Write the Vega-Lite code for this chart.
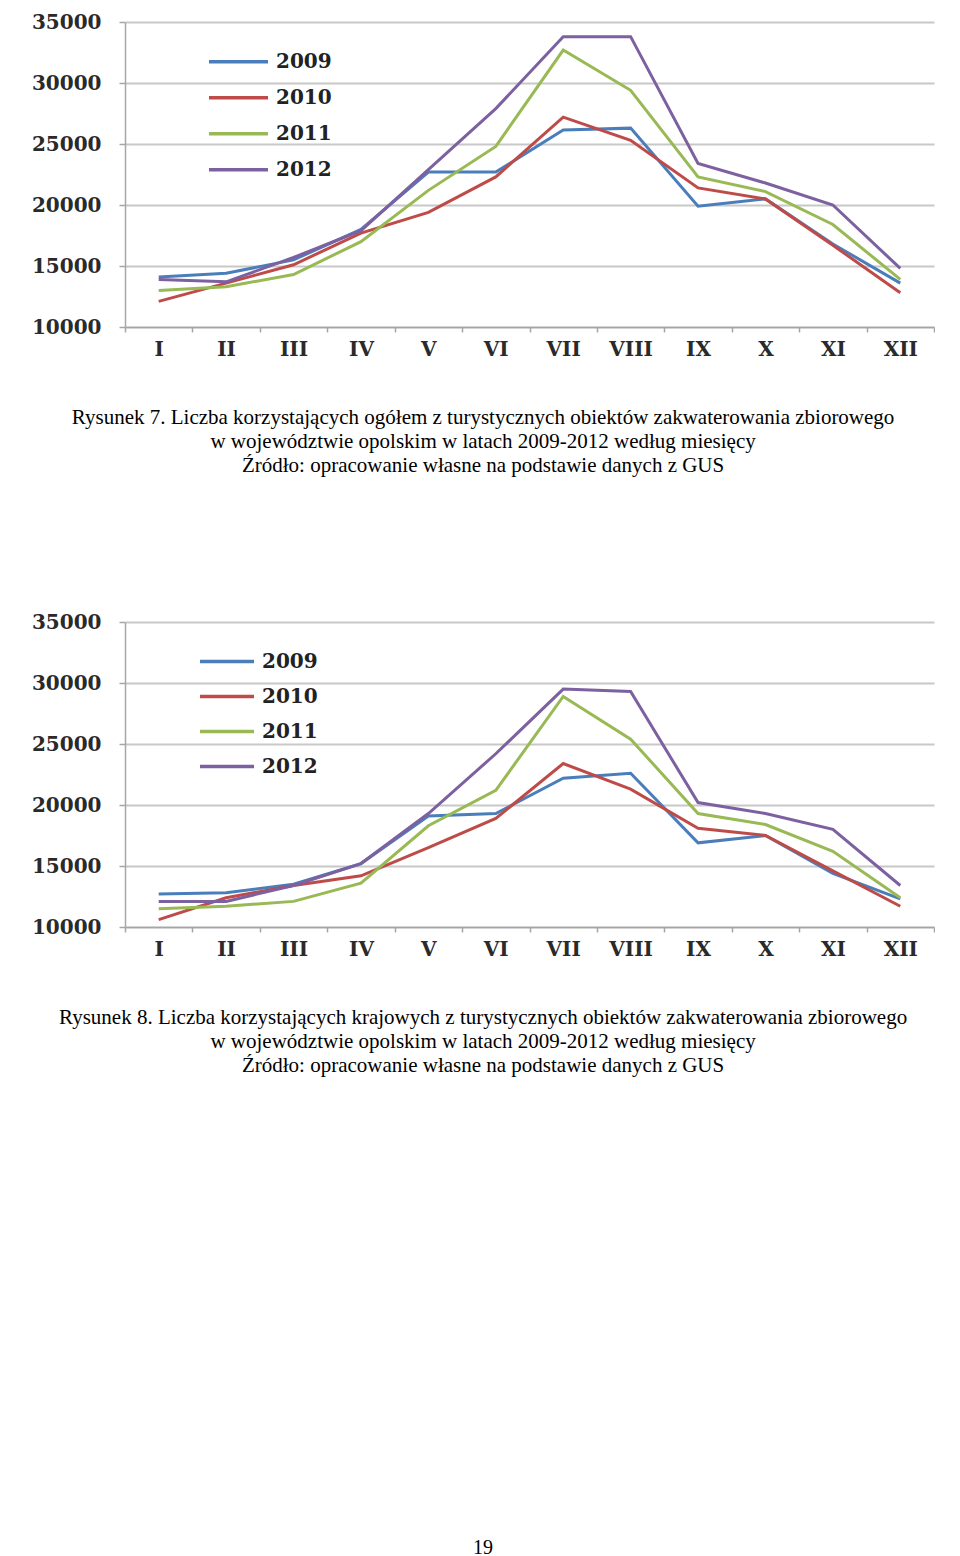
{
  "$schema": "https://vega.github.io/schema/vega-lite/v6.json",
  "background": "white",
  "padding": {"left": 31, "top": 12, "right": 0, "bottom": 0},
  "spacing": 136,
  "resolve": {"legend": {"color": "independent"}},
  "datasets": {
    "ch1": [
      {"month": "I", "year": "2009", "value": 14100}, {"month": "II", "year": "2009", "value": 14400}, {"month": "III", "year": "2009", "value": 15500}, {"month": "IV", "year": "2009", "value": 18000}, {"month": "V", "year": "2009", "value": 22700}, {"month": "VI", "year": "2009", "value": 22700}, {"month": "VII", "year": "2009", "value": 26150}, {"month": "VIII", "year": "2009", "value": 26300}, {"month": "IX", "year": "2009", "value": 19900}, {"month": "X", "year": "2009", "value": 20500}, {"month": "XI", "year": "2009", "value": 16800}, {"month": "XII", "year": "2009", "value": 13600},
      {"month": "I", "year": "2010", "value": 12100}, {"month": "II", "year": "2010", "value": 13600}, {"month": "III", "year": "2010", "value": 15100}, {"month": "IV", "year": "2010", "value": 17700}, {"month": "V", "year": "2010", "value": 19400}, {"month": "VI", "year": "2010", "value": 22300}, {"month": "VII", "year": "2010", "value": 27200}, {"month": "VIII", "year": "2010", "value": 25300}, {"month": "IX", "year": "2010", "value": 21400}, {"month": "X", "year": "2010", "value": 20500}, {"month": "XI", "year": "2010", "value": 16700}, {"month": "XII", "year": "2010", "value": 12800},
      {"month": "I", "year": "2011", "value": 13000}, {"month": "II", "year": "2011", "value": 13300}, {"month": "III", "year": "2011", "value": 14300}, {"month": "IV", "year": "2011", "value": 17000}, {"month": "V", "year": "2011", "value": 21200}, {"month": "VI", "year": "2011", "value": 24800}, {"month": "VII", "year": "2011", "value": 32700}, {"month": "VIII", "year": "2011", "value": 29400}, {"month": "IX", "year": "2011", "value": 22300}, {"month": "X", "year": "2011", "value": 21100}, {"month": "XI", "year": "2011", "value": 18400}, {"month": "XII", "year": "2011", "value": 13900},
      {"month": "I", "year": "2012", "value": 13900}, {"month": "II", "year": "2012", "value": 13700}, {"month": "III", "year": "2012", "value": 15700}, {"month": "IV", "year": "2012", "value": 17900}, {"month": "V", "year": "2012", "value": 22900}, {"month": "VI", "year": "2012", "value": 27900}, {"month": "VII", "year": "2012", "value": 33800}, {"month": "VIII", "year": "2012", "value": 33800}, {"month": "IX", "year": "2012", "value": 23400}, {"month": "X", "year": "2012", "value": 21800}, {"month": "XI", "year": "2012", "value": 20000}, {"month": "XII", "year": "2012", "value": 14800}
    ],
    "ch2": [
      {"month": "I", "year": "2009", "value": 12700}, {"month": "II", "year": "2009", "value": 12800}, {"month": "III", "year": "2009", "value": 13500}, {"month": "IV", "year": "2009", "value": 15200}, {"month": "V", "year": "2009", "value": 19100}, {"month": "VI", "year": "2009", "value": 19300}, {"month": "VII", "year": "2009", "value": 22200}, {"month": "VIII", "year": "2009", "value": 22600}, {"month": "IX", "year": "2009", "value": 16900}, {"month": "X", "year": "2009", "value": 17500}, {"month": "XI", "year": "2009", "value": 14400}, {"month": "XII", "year": "2009", "value": 12300},
      {"month": "I", "year": "2010", "value": 10600}, {"month": "II", "year": "2010", "value": 12400}, {"month": "III", "year": "2010", "value": 13400}, {"month": "IV", "year": "2010", "value": 14200}, {"month": "V", "year": "2010", "value": 16500}, {"month": "VI", "year": "2010", "value": 18900}, {"month": "VII", "year": "2010", "value": 23400}, {"month": "VIII", "year": "2010", "value": 21300}, {"month": "IX", "year": "2010", "value": 18100}, {"month": "X", "year": "2010", "value": 17500}, {"month": "XI", "year": "2010", "value": 14600}, {"month": "XII", "year": "2010", "value": 11700},
      {"month": "I", "year": "2011", "value": 11500}, {"month": "II", "year": "2011", "value": 11700}, {"month": "III", "year": "2011", "value": 12100}, {"month": "IV", "year": "2011", "value": 13600}, {"month": "V", "year": "2011", "value": 18300}, {"month": "VI", "year": "2011", "value": 21200}, {"month": "VII", "year": "2011", "value": 28900}, {"month": "VIII", "year": "2011", "value": 25400}, {"month": "IX", "year": "2011", "value": 19300}, {"month": "X", "year": "2011", "value": 18400}, {"month": "XI", "year": "2011", "value": 16200}, {"month": "XII", "year": "2011", "value": 12400},
      {"month": "I", "year": "2012", "value": 12100}, {"month": "II", "year": "2012", "value": 12100}, {"month": "III", "year": "2012", "value": 13400}, {"month": "IV", "year": "2012", "value": 15200}, {"month": "V", "year": "2012", "value": 19300}, {"month": "VI", "year": "2012", "value": 24200}, {"month": "VII", "year": "2012", "value": 29500}, {"month": "VIII", "year": "2012", "value": 29300}, {"month": "IX", "year": "2012", "value": 20200}, {"month": "X", "year": "2012", "value": 19300}, {"month": "XI", "year": "2012", "value": 18000}, {"month": "XII", "year": "2012", "value": 13400}
    ]
  },
  "config": {
    "view": {"stroke": null},
    "font": "Liberation Serif",
    "axis": {
      "labelFont": "DejaVu Serif",
      "labelFontWeight": "bold",
      "labelFontSize": 20,
      "labelColor": "#2a2a2a",
      "domainColor": "#a6a6a6",
      "domainWidth": 1.5,
      "tickColor": "#a6a6a6",
      "tickWidth": 1.5,
      "gridColor": "#c8c8c8",
      "gridWidth": 2,
      "title": null
    },
    "legend": {
      "orient": "none",
      "title": null,
      "symbolType": "stroke",
      "symbolStrokeWidth": 3.5,
      "labelFont": "DejaVu Serif",
      "labelFontWeight": "bold",
      "labelFontSize": 20,
      "labelColor": "#222222",
      "labelOffset": 6,
      "rowPadding": 0,
      "padding": 0
    },
    "title": {
      "font": "Liberation Serif",
      "fontWeight": "normal",
      "fontSize": 21,
      "color": "#000000",
      "lineHeight": 24,
      "orient": "bottom",
      "anchor": "middle",
      "frame": "bounds"
    }
  },
  "title": {"text": "19", "offset": 462, "fontSize": 20},
  "vconcat": [
    {
      "data": {"name": "ch1"},
      "width": 809,
      "height": 305,
      "title": {
        "text": [
          "Rysunek 7. Liczba korzystających ogółem z turystycznych obiektów zakwaterowania zbiorowego",
          "w województwie opolskim w latach 2009-2012 według miesięcy",
          "Źródło: opracowanie własne na podstawie danych z GUS"
        ],
        "offset": 48
      },
      "mark": {"type": "line", "strokeWidth": 3},
      "encoding": {
        "x": {
          "field": "month", "type": "ordinal", "bandPosition": 0.5,
          "sort": ["I", "II", "III", "IV", "V", "VI", "VII", "VIII", "IX", "X", "XI", "XII"],
          "scale": {"type": "band", "paddingInner": 0, "paddingOuter": 0},
          "axis": {"tickBand": "extent", "grid": false, "labelAngle": 0, "tickSize": 5, "labelPadding": 7}
        },
        "y": {
          "field": "value", "type": "quantitative",
          "scale": {"domain": [10000, 35000], "nice": false, "zero": false},
          "axis": {"values": [10000, 15000, 20000, 25000, 30000, 35000], "format": "d", "tickSize": 6, "labelPadding": 18}
        },
        "color": {
          "field": "year", "type": "nominal",
          "scale": {"domain": ["2009", "2010", "2011", "2012"], "range": ["#4a7ebb", "#be4b48", "#98b954", "#7d60a0"]},
          "legend": {"legendX": 82, "legendY": 22, "symbolSize": 3481, "clipHeight": 35.7}
        }
      }
    },
    {
      "data": {"name": "ch2"},
      "width": 809,
      "height": 305,
      "title": {
        "text": [
          "Rysunek 8. Liczba korzystających krajowych z turystycznych obiektów zakwaterowania zbiorowego",
          "w województwie opolskim w latach 2009-2012 według miesięcy",
          "Źródło: opracowanie własne na podstawie danych z GUS"
        ],
        "offset": 48
      },
      "mark": {"type": "line", "strokeWidth": 3},
      "encoding": {
        "x": {
          "field": "month", "type": "ordinal", "bandPosition": 0.5,
          "sort": ["I", "II", "III", "IV", "V", "VI", "VII", "VIII", "IX", "X", "XI", "XII"],
          "scale": {"type": "band", "paddingInner": 0, "paddingOuter": 0},
          "axis": {"tickBand": "extent", "grid": false, "labelAngle": 0, "tickSize": 5, "labelPadding": 7}
        },
        "y": {
          "field": "value", "type": "quantitative",
          "scale": {"domain": [10000, 35000], "nice": false, "zero": false},
          "axis": {"values": [10000, 15000, 20000, 25000, 30000, 35000], "format": "d", "tickSize": 6, "labelPadding": 18}
        },
        "color": {
          "field": "year", "type": "nominal",
          "scale": {"domain": ["2009", "2010", "2011", "2012"], "range": ["#4a7ebb", "#be4b48", "#98b954", "#7d60a0"]},
          "legend": {"legendX": 73, "legendY": 22, "symbolSize": 2916, "clipHeight": 35}
        }
      }
    }
  ]
}
